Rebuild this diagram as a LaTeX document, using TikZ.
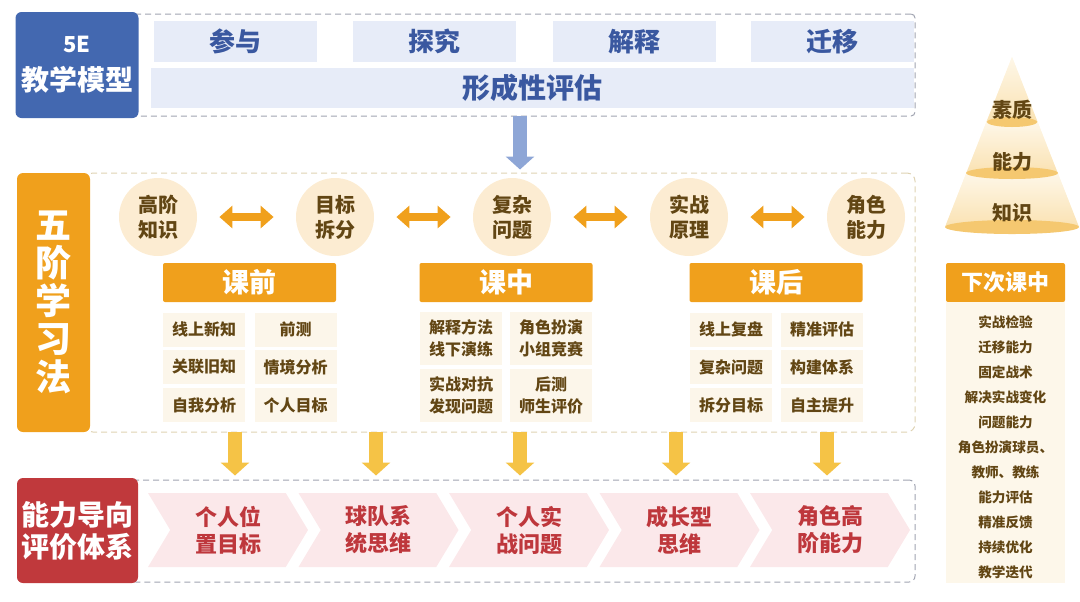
\documentclass[tikz,border=0pt]{standalone}
\usepackage{fontspec}
\setmainfont{Noto Sans CJK SC}
\usetikzlibrary{arrows.meta}
\usetikzlibrary{calc}
\usetikzlibrary{shapes.symbols}
\tikzset{>=latex}
\definecolor{modelblue}{RGB}{67,104,176}
\definecolor{stagefill}{RGB}{231,236,248}
\definecolor{stagetext}{RGB}{58,88,160}
\definecolor{arrowblue}{RGB}{142,166,214}
\definecolor{bookorange}{RGB}{240,160,28}
\definecolor{circlefill}{RGB}{252,236,210}
\definecolor{browntext}{RGB}{98,70,20}
\definecolor{cellfill}{RGB}{252,246,234}
\definecolor{arrowyellow}{RGB}{245,195,70}
\definecolor{evalred}{RGB}{192,57,60}
\definecolor{chevfill}{RGB}{251,232,234}
\definecolor{chevtext}{RGB}{190,55,60}
\definecolor{listfill}{RGB}{253,247,234}
\definecolor{grayframe}{RGB}{160,163,176}
\definecolor{beigeframe}{RGB}{222,210,178}
\definecolor{pyrtop}{RGB}{254,247,232}
\definecolor{pyrbottom}{RGB}{250,226,178}
\definecolor{pyrring}{RGB}{245,200,112}
\tikzstyle{topframe}=[draw=grayframe,line width=0.5pt,dash pattern=on 3pt off 2pt,rounded corners=2pt,minimum width=392.5pt,minimum height=51pt,inner sep=0pt]
\tikzstyle{midframe}=[draw=beigeframe,line width=0.5pt,dash pattern=on 3pt off 2pt,rounded corners=4pt,minimum width=415pt,minimum height=129.5pt,inner sep=0pt]
\tikzstyle{botframe}=[draw=grayframe,line width=0.5pt,dash pattern=on 3pt off 2pt,rounded corners=3pt,minimum width=392.5pt,minimum height=51pt,inner sep=0pt]
\tikzstyle{modelbox}=[fill=modelblue,rounded corners=3pt,text=white,font=\bfseries\fontsize{14}{19}\selectfont,align=center,inner sep=0pt,minimum width=61.5pt,minimum height=53pt]
\tikzstyle{stagebox}=[fill=stagefill,text=stagetext,font=\bfseries\fontsize{13}{15}\selectfont,inner sep=0pt,minimum width=81.5pt,minimum height=20.5pt]
\tikzstyle{methodbox}=[fill=bookorange,rounded corners=3pt,text=white,font=\bfseries\fontsize{18}{19}\selectfont,align=center,inner sep=0pt,minimum width=36.5pt,minimum height=129.5pt]
\tikzstyle{stagecircle}=[circle,fill=circlefill,text=browntext,font=\bfseries\fontsize{10}{12.5}\selectfont,align=center,inner sep=0pt,minimum size=39pt]
\tikzstyle{phasehead}=[fill=bookorange,rounded corners=1pt,text=white,font=\bfseries\fontsize{13.5}{15}\selectfont,inner sep=0pt,minimum width=86.5pt,minimum height=19.5pt]
\tikzstyle{cellbox}=[fill=cellfill,text=browntext,font=\bfseries\fontsize{8}{11}\selectfont,align=center,inner sep=0pt,minimum width=41pt,minimum height=17pt]
\tikzstyle{tallcell}=[cellbox,minimum height=26.5pt]
\tikzstyle{evalbox}=[fill=evalred,rounded corners=3pt,text=white,font=\bfseries\fontsize{14}{16}\selectfont,align=center,inner sep=0pt,minimum width=60.5pt,minimum height=52.5pt]
\tikzstyle{chevbox}=[signal,signal to=east,signal from=west,signal pointer angle=118,fill=chevfill,text=chevtext,font=\bfseries\fontsize{11}{13.5}\selectfont,align=center,inner sep=0pt,minimum width=80pt,minimum height=37pt]
\tikzstyle{nexthead}=[fill=bookorange,rounded corners=1pt,text=white,font=\bfseries\fontsize{11}{13}\selectfont,inner sep=0pt,minimum width=59.5pt,minimum height=19.5pt]
\tikzstyle{listbox}=[fill=listfill,inner sep=0pt,minimum width=59.5pt,minimum height=140.5pt]
\tikzstyle{bluedown}=[draw=arrowblue,line width=7pt,-{Triangle[width=14pt,length=6.5pt]},shorten >=1.5pt]
\tikzstyle{yellowdown}=[draw=arrowyellow,line width=7pt,-{Triangle[width=14pt,length=6.5pt]},shorten >=2pt]
\tikzstyle{twoway}=[draw=bookorange,line width=4pt,{Triangle[width=11pt,length=6.5pt]}-{Triangle[width=11pt,length=6.5pt]},shorten >=11pt,shorten <=11pt]

\begin{document}
\begin{tikzpicture}[x=0.5pt,y=-0.5pt]
  \useasboundingbox (0,0) rectangle (1080,601);

  % 5E model
  \node[topframe] (tframe) at (522.5,65) {};
  \node[modelbox] (model) at (77,65) {{\fontsize{11}{19}\selectfont 5E}\\教学模型};
  \node[stagebox] (engage) at (235,41.5) {参与};
  \node[stagebox] (explore) at (434.5,41.5) {探究};
  \node[stagebox] (explain) at (634,41.5) {解释};
  \node[stagebox] (transfer) at (832.5,41.5) {迁移};
  \node[stagebox,minimum width=381.5pt,minimum height=20pt,font=\bfseries\fontsize{14}{16}\selectfont] (assess) at (532.5,88) {形成性评估};

  % five steps
  \node[midframe] (mframe) at (500,302.5) {};
  \node[methodbox] (method) at (53.5,302.5) {五\\阶\\学\\习\\法};
  \coordinate (bstart) at (520,116);
  \draw[bluedown] (bstart) -- (bstart |- mframe.north);

  \node[stagecircle] (c1) at (158,217) {高阶\\知识};
  \node[stagecircle] (c2) at (335,217) {目标\\拆分};
  \node[stagecircle] (c3) at (512,217) {复杂\\问题};
  \node[stagecircle] (c4) at (689,217) {实战\\原理};
  \node[stagecircle] (c5) at (866,217) {角色\\能力};
  \draw[twoway] (c1) -- (c2);
  \draw[twoway] (c2) -- (c3);
  \draw[twoway] (c3) -- (c4);
  \draw[twoway] (c4) -- (c5);

  \node[phasehead] (before) at (249.5,282.5) {课前};
  \node[phasehead] (during) at (506,282.5) {课中};
  \node[phasehead] (after) at (776,282.5) {课后};

  \node[cellbox] (b1) at (204,329.5) {线上新知};
  \node[cellbox] (b2) at (295.5,329.5) {前测};
  \node[cellbox] (b3) at (204,367) {关联旧知};
  \node[cellbox] (b4) at (295.5,367) {情境分析};
  \node[cellbox] (b5) at (204,405) {自我分析};
  \node[cellbox] (b6) at (295.5,405) {个人目标};

  \node[tallcell] (d1) at (461,338.5) {解释方法\\线下演练};
  \node[tallcell] (d2) at (551,338.5) {角色扮演\\小组竞赛};
  \node[tallcell] (d3) at (461,395.5) {实战对抗\\发现问题};
  \node[tallcell] (d4) at (551,395.5) {后测\\师生评价};

  \node[cellbox] (a1) at (731,329.5) {线上复盘};
  \node[cellbox] (a2) at (822,329.5) {精准评估};
  \node[cellbox] (a3) at (731,367) {复杂问题};
  \node[cellbox] (a4) at (822,367) {构建体系};
  \node[cellbox] (a5) at (731,405) {拆分目标};
  \node[cellbox] (a6) at (822,405) {自主提升};

  % evaluation
  \node[botframe] (bframe) at (522.5,531) {};
  \node[evalbox] (eval) at (77.5,530.5) {能力导向\\评价体系};
  \node[chevbox] (v1) at (228,530) {个人位\\置目标};
  \node[chevbox] (v2) at (378.5,530) {球队系\\统思维};
  \node[chevbox] (v3) at (529,530) {个人实\\战问题};
  \node[chevbox] (v4) at (679.5,530) {成长型\\思维};
  \node[chevbox] (v5) at (830,530) {角色高\\阶能力};

  \coordinate (ya) at (235,432);
  \coordinate (yb) at (376,432);
  \coordinate (yc) at (520,432);
  \coordinate (yd) at (676,432);
  \coordinate (ye) at (827,432);
  \draw[yellowdown] (ya) -- (ya |- bframe.north);
  \draw[yellowdown] (yb) -- (yb |- bframe.north);
  \draw[yellowdown] (yc) -- (yc |- bframe.north);
  \draw[yellowdown] (yd) -- (yd |- bframe.north);
  \draw[yellowdown] (ye) -- (ye |- bframe.north);

  % pyramid
  \fill[pyrtop] (1012,57) -- (945,227) -- (1079,227) -- cycle;
  \begin{scope}
    \clip (1012,57) -- (945,227) -- (1079,227) -- cycle;
    \shade[top color=pyrtop,bottom color=pyrbottom] (940,57) rectangle (1080,122);
    \shade[top color=pyrtop,bottom color=pyrbottom] (940,122) rectangle (1080,173);
    \shade[top color=pyrtop,bottom color=pyrbottom] (940,173) rectangle (1080,227);
  \end{scope}
  \fill[pyrring] (1012,122) ellipse [x radius=12.5pt,y radius=2.5pt];
  \fill[pyrring] (1012,173) ellipse [x radius=23pt,y radius=3pt];
  \fill[pyrring] (1012,227) ellipse [x radius=33.5pt,y radius=3.5pt];
  \node[text=browntext,font=\bfseries\fontsize{10}{12}\selectfont] (quality) at (1012,110) {素质};
  \node[text=browntext,font=\bfseries\fontsize{10}{12}\selectfont] (ability) at (1012,162) {能力};
  \node[text=browntext,font=\bfseries\fontsize{10}{12}\selectfont] (knowledge) at (1012,213) {知识};

  % next lesson
  \node[nexthead] (next) at (1005.5,282.5) {下次课中};
  \node[listbox] (nextbody) at (1005.5,442.5) {};
  \node[text=browntext,font=\bfseries\fontsize{6.8}{12.5}\selectfont,align=center] (nextitems) at (1005.5,447) {实战检验\\迁移能力\\固定战术\\解决实战变化\\问题能力\\角色扮演球员、\\教师、教练\\能力评估\\精准反馈\\持续优化\\教学迭代};
\end{tikzpicture}
\end{document}
